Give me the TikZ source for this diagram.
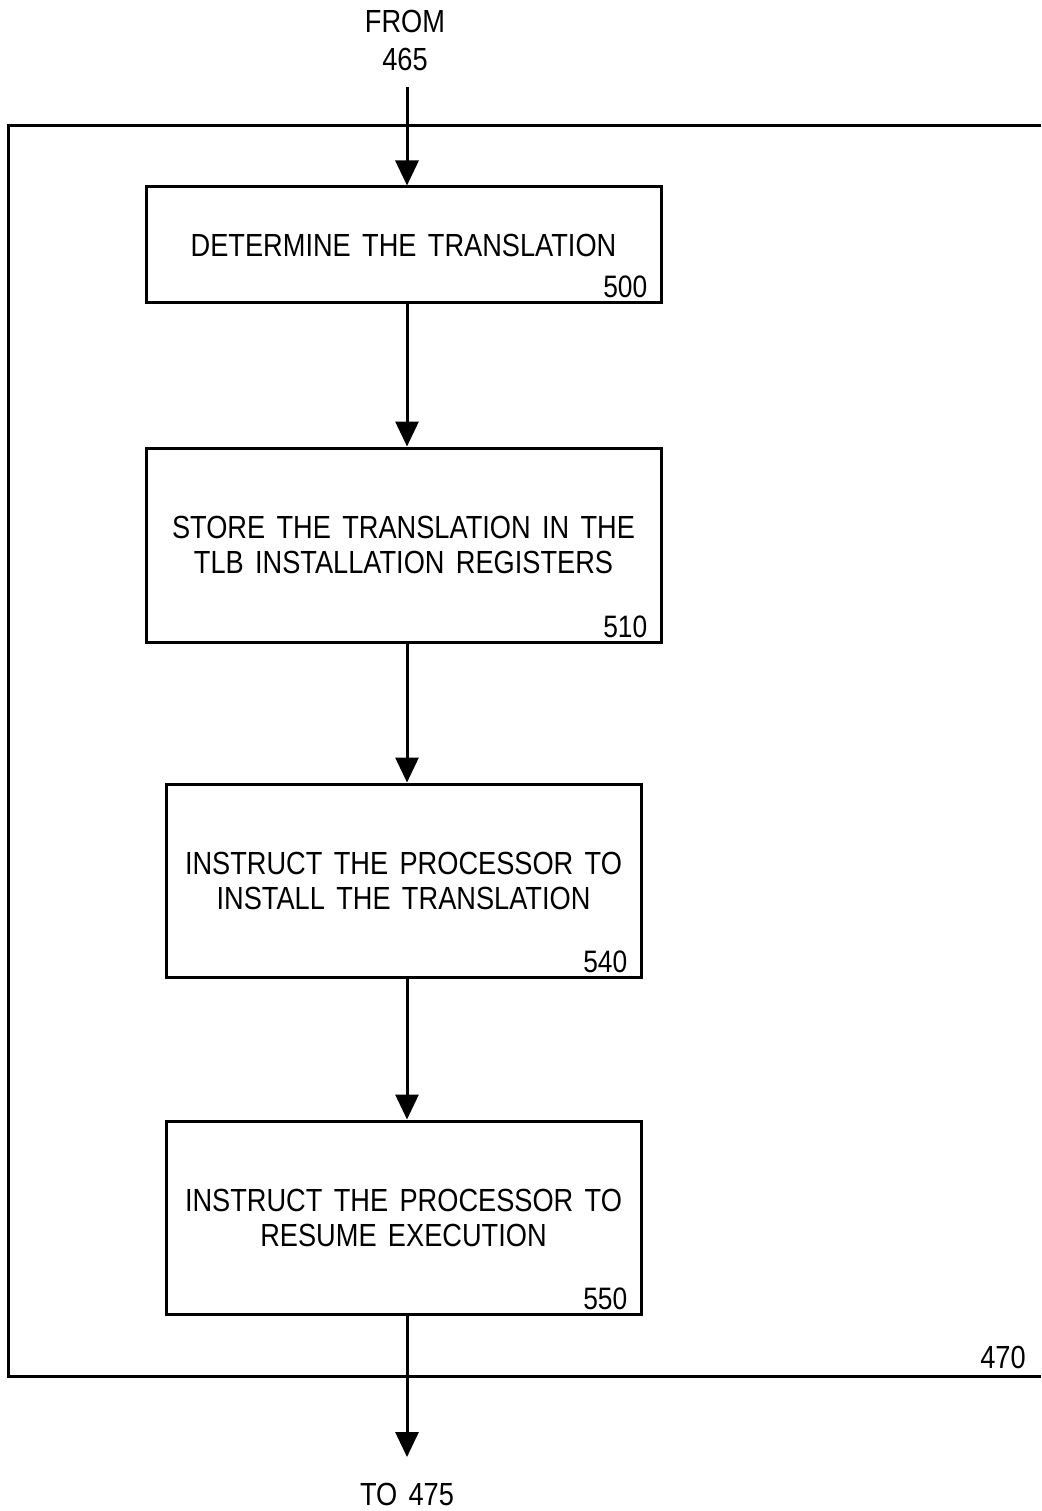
\documentclass[tikz,border=0pt]{standalone}
\usepackage{fontspec}
\setmainfont{Liberation Sans}[FakeStretch=0.85,WordSpace=1.5]
\usetikzlibrary{arrows.meta}
\begin{document}
\begin{tikzpicture}[x=1pt,y=-1pt,
  box/.style={draw,line width=3pt,minimum width=#1,inner sep=0pt,align=center,font=\fontsize{32}{35}\selectfont},
  num/.style={anchor=south east,inner sep=0pt,font=\fontsize{31}{32}\selectfont},
  lbl/.style={inner sep=0pt,align=center,font=\fontsize{32}{38}\selectfont},
  arr/.style={line width=3pt,-{Triangle[length=25pt,width=23pt]}},
  frame/.style={line width=3pt}]
\useasboundingbox (0,0) rectangle (1041,1511);
% outer frame 470
\draw[frame] (1041,126) -- (8,126) -- (8,1376) -- (1041,1376);
\node[lbl] (n470) at (1003,1357) {470};
% top entry
\node[lbl] (from) at (405,40) {FROM\\465};
\coordinate (start) at (407,87);
% boxes
\node[box=515pt,minimum height=116pt] (b500) at (403.5,245) {DETERMINE THE TRANSLATION};
\node[num] (l500) at ([xshift=-15pt,yshift=6pt]b500.south east) {500};
\node[box=515pt,minimum height=194pt] (b510) at (403.5,545) {STORE THE TRANSLATION IN THE\\TLB INSTALLATION REGISTERS};
\node[num] (l510) at ([xshift=-15pt,yshift=6pt]b510.south east) {510};
\node[box=475pt,minimum height=193pt] (b540) at (403.5,880.5) {INSTRUCT THE PROCESSOR TO\\INSTALL THE TRANSLATION};
\node[num] (l540) at ([xshift=-15pt,yshift=6pt]b540.south east) {540};
\node[box=475pt,minimum height=193pt] (b550) at (403.5,1217.5) {INSTRUCT THE PROCESSOR TO\\RESUME EXECUTION};
\node[num] (l550) at ([xshift=-15pt,yshift=6pt]b550.south east) {550};
% exit
\coordinate (end) at (407,1457);
\node[lbl] (to) at (407,1494) {TO 475};
% connectors
\draw[arr] (start) -- (start |- b500.north);
\draw[arr] (b500.south -| start) -- (b510.north -| start);
\draw[arr] (b510.south -| start) -- (b540.north -| start);
\draw[arr] (b540.south -| start) -- (b550.north -| start);
\draw[arr] (b550.south -| start) -- (end);
\end{tikzpicture}
\end{document}
